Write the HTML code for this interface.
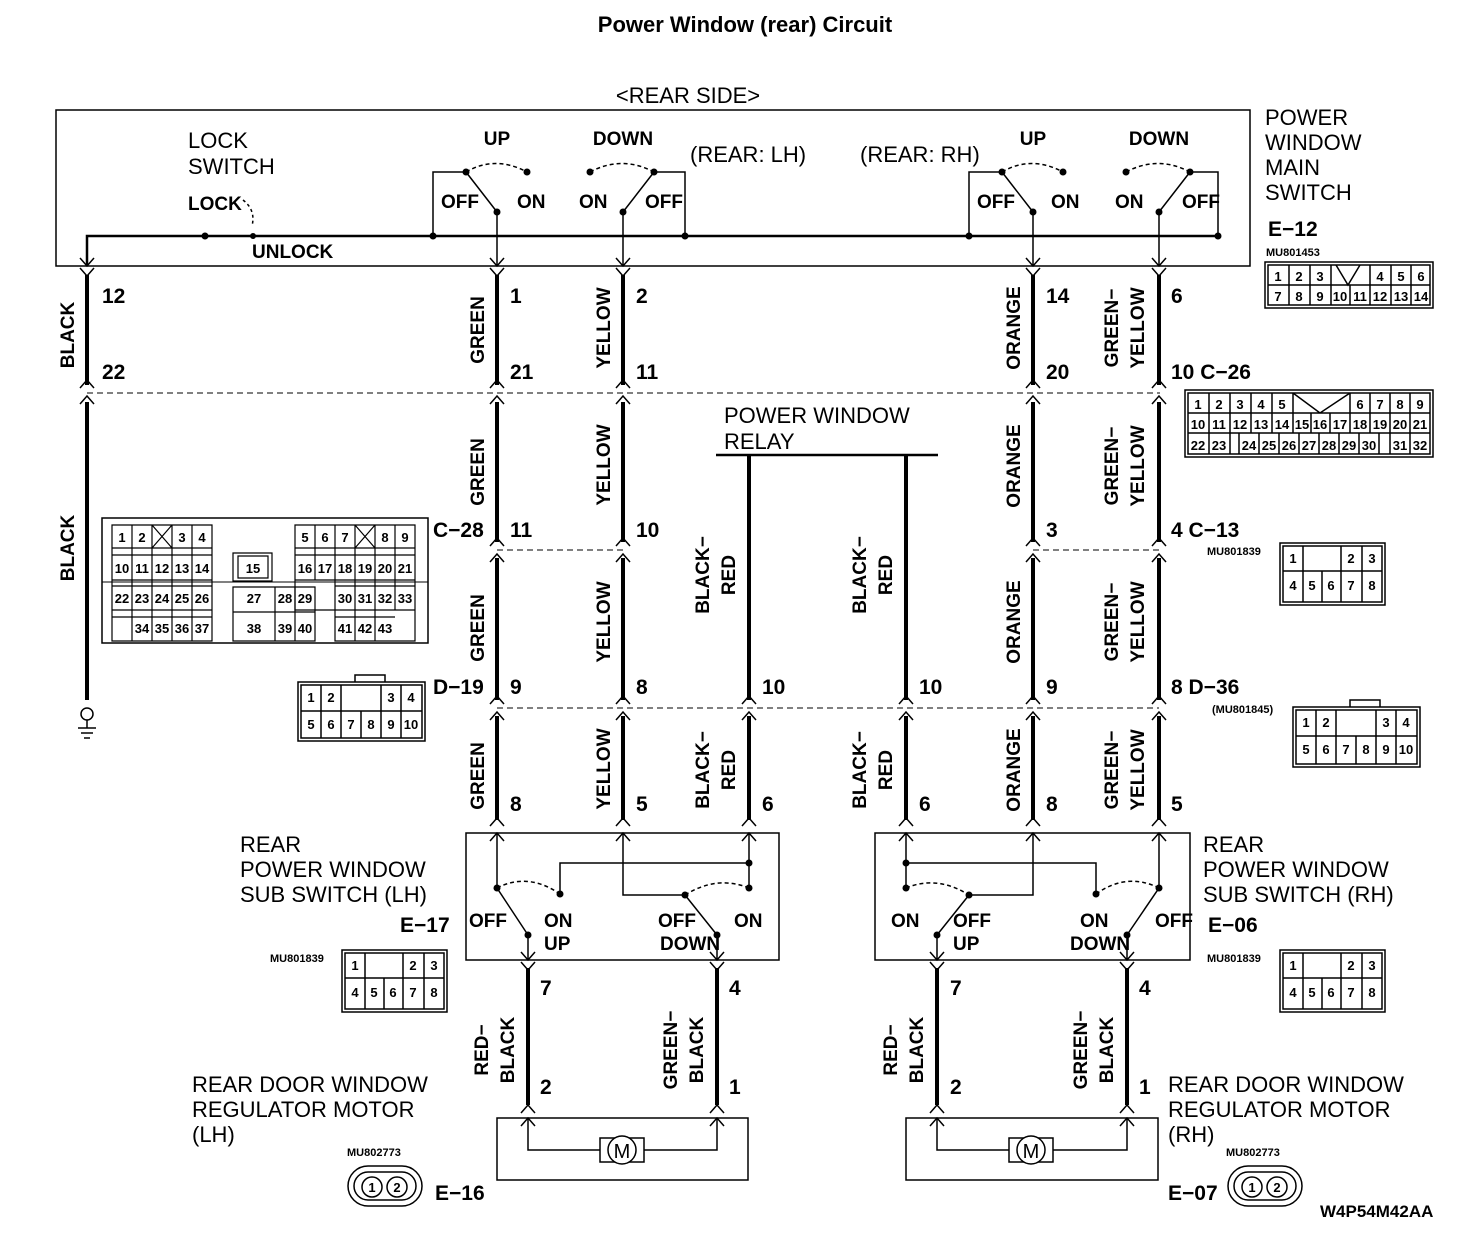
<!DOCTYPE html>
<html><head><meta charset="utf-8"><style>
html,body{margin:0;padding:0;background:#fff}
svg{display:block}
text{font-family:"Liberation Sans Narrow","Liberation Sans",sans-serif;fill:#000}
.b{font-weight:bold}
.p{font-size:21px;font-weight:bold}
.w{font-size:19px;font-weight:bold}
.t{font-size:22px;font-family:"Liberation Sans",sans-serif}
.c{font-size:13px;font-weight:bold;text-anchor:middle}
.s{font-size:11px;font-weight:bold}
</style></head><body>
<svg width="1472" height="1234" viewBox="0 0 1472 1234" xmlns="http://www.w3.org/2000/svg">
<defs>
<path id="dn" d="M-7,-8 L0,0 L7,-8" fill="none" stroke="#000" stroke-width="1.5"/>
<path id="up" d="M-7,8 L0,0 L7,8" fill="none" stroke="#000" stroke-width="1.5"/>
</defs>
<text x="745" y="32" font-size="22" class="b" text-anchor="middle" style="font-family:'Liberation Sans',sans-serif">Power Window (rear) Circuit</text>
<text x="688" y="103" class="t" text-anchor="middle" font-size="20">&lt;REAR SIDE&gt;</text>

<!-- main switch box -->
<rect x="56" y="110" width="1194" height="156" fill="none" stroke="#000" stroke-width="1.5"/>
<text x="1265" y="125" class="t">POWER</text>
<text x="1265" y="150" class="t">WINDOW</text>
<text x="1265" y="175" class="t">MAIN</text>
<text x="1265" y="200" class="t">SWITCH</text>
<text x="1268" y="236" class="p">E−12</text>
<text x="1266" y="256" class="s">MU801453</text>
<text x="188" y="148" class="t" font-size="18">LOCK</text>
<text x="188" y="174" class="t" font-size="18">SWITCH</text>
<text x="188" y="210" class="w">LOCK</text>
<text x="252" y="258" class="w">UNLOCK</text>
<path d="M243,200 Q256,210 252,226" fill="none" stroke="#000" stroke-dasharray="3,3" stroke-width="1.5"/>
<path d="M87,266 V236 H1218" fill="none" stroke="#000" stroke-width="2.5"/>
<circle cx="205" cy="236" r="3.5"/><circle cx="253" cy="236" r="3"/><circle cx="433" cy="236" r="3.5"/><circle cx="685" cy="236" r="3.5"/><circle cx="969" cy="236" r="3.5"/><circle cx="1218" cy="236" r="3.5"/>
<!-- LH switches -->
<text x="497" y="145" class="w" text-anchor="middle">UP</text>
<text x="623" y="145" class="w" text-anchor="middle">DOWN</text>
<path d="M433,236 V172 H466 M497,212 L466,172 M497,212 V266" fill="none" stroke="#000" stroke-width="1.5"/>
<path d="M466,172 Q495,155 527,172" fill="none" stroke="#000" stroke-dasharray="4,3" stroke-width="1.5"/>
<circle cx="466" cy="172" r="3.5"/><circle cx="527" cy="172" r="3.5"/><circle cx="497" cy="212" r="3.5"/>
<text x="441" y="208" class="w">OFF</text><text x="517" y="208" class="w">ON</text>
<path d="M685,236 V172 H654 M623,212 L654,172 M623,212 V266" fill="none" stroke="#000" stroke-width="1.5"/>
<path d="M590,172 Q622,155 654,172" fill="none" stroke="#000" stroke-dasharray="4,3" stroke-width="1.5"/>
<circle cx="590" cy="172" r="3.5"/><circle cx="654" cy="172" r="3.5"/><circle cx="623" cy="212" r="3.5"/>
<text x="579" y="208" class="w">ON</text><text x="645" y="208" class="w">OFF</text>
<text x="690" y="162" class="t" font-size="17">(REAR: LH)</text>
<text x="860" y="162" class="t" font-size="17">(REAR: RH)</text>
<!-- RH switches -->
<text x="1033" y="145" class="w" text-anchor="middle">UP</text>
<text x="1159" y="145" class="w" text-anchor="middle">DOWN</text>
<path d="M969,236 V172 H1002 M1033,212 L1002,172 M1033,212 V266" fill="none" stroke="#000" stroke-width="1.5"/>
<path d="M1002,172 Q1031,155 1063,172" fill="none" stroke="#000" stroke-dasharray="4,3" stroke-width="1.5"/>
<circle cx="1002" cy="172" r="3.5"/><circle cx="1063" cy="172" r="3.5"/><circle cx="1033" cy="212" r="3.5"/>
<text x="977" y="208" class="w">OFF</text><text x="1051" y="208" class="w">ON</text>
<path d="M1218,236 V172 H1190 M1159,212 L1190,172 M1159,212 V266" fill="none" stroke="#000" stroke-width="1.5"/>
<path d="M1126,172 Q1158,155 1190,172" fill="none" stroke="#000" stroke-dasharray="4,3" stroke-width="1.5"/>
<circle cx="1126" cy="172" r="3.5"/><circle cx="1190" cy="172" r="3.5"/><circle cx="1159" cy="212" r="3.5"/>
<text x="1115" y="208" class="w">ON</text><text x="1182" y="208" class="w">OFF</text>

<!-- thick wires -->
<g stroke="#000" stroke-width="4" fill="none">
<path d="M87,275 V385 M87,402 V700"/>
<path d="M497,275 V385 M497,402 V542 M497,558 V700 M497,716 V820"/>
<path d="M623,275 V385 M623,402 V542 M623,558 V700 M623,716 V820"/>
<path d="M1033,275 V385 M1033,402 V542 M1033,558 V700 M1033,716 V820"/>
<path d="M1159,275 V385 M1159,402 V542 M1159,558 V700 M1159,716 V820"/>
<path d="M749,455 V700 M749,716 V820"/>
<path d="M906,455 V700 M906,716 V820"/>
<path d="M528,968 V1105 M717,968 V1105 M937,968 V1105 M1127,968 V1105"/>
</g>
<line x1="716" y1="455" x2="938" y2="455" stroke="#000" stroke-width="2.5"/>
<text x="724" y="423" class="t">POWER WINDOW</text>
<text x="724" y="449" class="t">RELAY</text>

<!-- dashed connector lines -->
<g stroke="#000" stroke-dasharray="6,4" stroke-width="1">
<line x1="87" y1="393" x2="1160" y2="393"/>
<line x1="497" y1="550" x2="623" y2="550"/><line x1="1033" y1="550" x2="1159" y2="550"/>
<line x1="497" y1="708" x2="1159" y2="708"/>
</g>

<!-- chevrons -->
<g>
<use href="#dn" x="87" y="266"/><use href="#dn" x="87" y="276"/>
<use href="#dn" x="497" y="266"/><use href="#dn" x="497" y="276"/>
<use href="#dn" x="623" y="266"/><use href="#dn" x="623" y="276"/>
<use href="#dn" x="1033" y="266"/><use href="#dn" x="1033" y="276"/>
<use href="#dn" x="1159" y="266"/><use href="#dn" x="1159" y="276"/>
<use href="#up" x="87" y="380"/><use href="#up" x="87" y="396"/>
<use href="#up" x="497" y="380"/><use href="#up" x="497" y="396"/>
<use href="#up" x="623" y="380"/><use href="#up" x="623" y="396"/>
<use href="#up" x="1033" y="380"/><use href="#up" x="1033" y="396"/>
<use href="#up" x="1159" y="380"/><use href="#up" x="1159" y="396"/>
<use href="#up" x="497" y="538"/><use href="#up" x="497" y="554"/>
<use href="#up" x="623" y="538"/><use href="#up" x="623" y="554"/>
<use href="#up" x="1033" y="538"/><use href="#up" x="1033" y="554"/>
<use href="#up" x="1159" y="538"/><use href="#up" x="1159" y="554"/>
<use href="#up" x="497" y="696"/><use href="#up" x="497" y="712"/>
<use href="#up" x="623" y="696"/><use href="#up" x="623" y="712"/>
<use href="#up" x="749" y="696"/><use href="#up" x="749" y="712"/>
<use href="#up" x="906" y="696"/><use href="#up" x="906" y="712"/>
<use href="#up" x="1033" y="696"/><use href="#up" x="1033" y="712"/>
<use href="#up" x="1159" y="696"/><use href="#up" x="1159" y="712"/>
<use href="#up" x="497" y="818"/><use href="#up" x="497" y="833"/>
<use href="#up" x="623" y="818"/><use href="#up" x="623" y="833"/>
<use href="#up" x="749" y="818"/><use href="#up" x="749" y="833"/>
<use href="#up" x="906" y="818"/><use href="#up" x="906" y="833"/>
<use href="#up" x="1033" y="818"/><use href="#up" x="1033" y="833"/>
<use href="#up" x="1159" y="818"/><use href="#up" x="1159" y="833"/>
<use href="#dn" x="528" y="960"/><use href="#dn" x="528" y="970"/>
<use href="#dn" x="717" y="960"/><use href="#dn" x="717" y="970"/>
<use href="#dn" x="937" y="960"/><use href="#dn" x="937" y="970"/>
<use href="#dn" x="1127" y="960"/><use href="#dn" x="1127" y="970"/>
<use href="#up" x="528" y="1105"/><use href="#up" x="528" y="1118"/>
<use href="#up" x="717" y="1105"/><use href="#up" x="717" y="1118"/>
<use href="#up" x="937" y="1105"/><use href="#up" x="937" y="1118"/>
<use href="#up" x="1127" y="1105"/><use href="#up" x="1127" y="1118"/>
</g>

<!-- pin numbers -->
<g class="p">
<text x="102" y="303" class="p">12</text><text x="510" y="303" class="p">1</text><text x="636" y="303" class="p">2</text><text x="1046" y="303" class="p">14</text><text x="1171" y="303" class="p">6</text>
<text x="102" y="379" class="p">22</text><text x="510" y="379" class="p">21</text><text x="636" y="379" class="p">11</text><text x="1046" y="379" class="p">20</text><text x="1171" y="379" class="p">10  C−26</text>
<text x="433" y="537" class="p">C−28</text><text x="510" y="537" class="p">11</text><text x="636" y="537" class="p">10</text><text x="1046" y="537" class="p">3</text><text x="1171" y="537" class="p">4  C−13</text>
<text x="433" y="694" class="p">D−19</text><text x="510" y="694" class="p">9</text><text x="636" y="694" class="p">8</text><text x="762" y="694" class="p">10</text><text x="919" y="694" class="p">10</text><text x="1046" y="694" class="p">9</text><text x="1171" y="694" class="p">8  D−36</text>
<text x="510" y="811" class="p">8</text><text x="636" y="811" class="p">5</text><text x="762" y="811" class="p">6</text><text x="919" y="811" class="p">6</text><text x="1046" y="811" class="p">8</text><text x="1171" y="811" class="p">5</text>
<text x="540" y="995" class="p">7</text><text x="729" y="995" class="p">4</text><text x="950" y="995" class="p">7</text><text x="1139" y="995" class="p">4</text>
<text x="540" y="1094" class="p">2</text><text x="729" y="1094" class="p">1</text><text x="950" y="1094" class="p">2</text><text x="1139" y="1094" class="p">1</text>
</g>

<!-- wire color labels (rotated) -->
<g class="w">
<text transform="translate(74,335) rotate(-90)" text-anchor="middle" class="w">BLACK</text>
<text transform="translate(74,548) rotate(-90)" text-anchor="middle" class="w">BLACK</text>
<text transform="translate(484,330) rotate(-90)" text-anchor="middle" class="w">GREEN</text>
<text transform="translate(484,472) rotate(-90)" text-anchor="middle" class="w">GREEN</text>
<text transform="translate(484,628) rotate(-90)" text-anchor="middle" class="w">GREEN</text>
<text transform="translate(484,776) rotate(-90)" text-anchor="middle" class="w">GREEN</text>
<text transform="translate(610,328) rotate(-90)" text-anchor="middle" class="w">YELLOW</text>
<text transform="translate(610,465) rotate(-90)" text-anchor="middle" class="w">YELLOW</text>
<text transform="translate(610,622) rotate(-90)" text-anchor="middle" class="w">YELLOW</text>
<text transform="translate(610,769) rotate(-90)" text-anchor="middle" class="w">YELLOW</text>
<text transform="translate(1020,328) rotate(-90)" text-anchor="middle" class="w">ORANGE</text>
<text transform="translate(1020,466) rotate(-90)" text-anchor="middle" class="w">ORANGE</text>
<text transform="translate(1020,622) rotate(-90)" text-anchor="middle" class="w">ORANGE</text>
<text transform="translate(1020,770) rotate(-90)" text-anchor="middle" class="w">ORANGE</text>
<text transform="translate(1118,328) rotate(-90)" text-anchor="middle" class="w">GREEN−</text><text transform="translate(1144,328) rotate(-90)" text-anchor="middle" class="w">YELLOW</text>
<text transform="translate(1118,466) rotate(-90)" text-anchor="middle" class="w">GREEN−</text><text transform="translate(1144,466) rotate(-90)" text-anchor="middle" class="w">YELLOW</text>
<text transform="translate(1118,622) rotate(-90)" text-anchor="middle" class="w">GREEN−</text><text transform="translate(1144,622) rotate(-90)" text-anchor="middle" class="w">YELLOW</text>
<text transform="translate(1118,770) rotate(-90)" text-anchor="middle" class="w">GREEN−</text><text transform="translate(1144,770) rotate(-90)" text-anchor="middle" class="w">YELLOW</text>
<text transform="translate(709,575) rotate(-90)" text-anchor="middle" class="w">BLACK−</text><text transform="translate(735,575) rotate(-90)" text-anchor="middle" class="w">RED</text>
<text transform="translate(709,770) rotate(-90)" text-anchor="middle" class="w">BLACK−</text><text transform="translate(735,770) rotate(-90)" text-anchor="middle" class="w">RED</text>
<text transform="translate(866,575) rotate(-90)" text-anchor="middle" class="w">BLACK−</text><text transform="translate(892,575) rotate(-90)" text-anchor="middle" class="w">RED</text>
<text transform="translate(866,770) rotate(-90)" text-anchor="middle" class="w">BLACK−</text><text transform="translate(892,770) rotate(-90)" text-anchor="middle" class="w">RED</text>
<text transform="translate(488,1050) rotate(-90)" text-anchor="middle" class="w">RED−</text><text transform="translate(514,1050) rotate(-90)" text-anchor="middle" class="w">BLACK</text>
<text transform="translate(677,1050) rotate(-90)" text-anchor="middle" class="w">GREEN−</text><text transform="translate(703,1050) rotate(-90)" text-anchor="middle" class="w">BLACK</text>
<text transform="translate(897,1050) rotate(-90)" text-anchor="middle" class="w">RED−</text><text transform="translate(923,1050) rotate(-90)" text-anchor="middle" class="w">BLACK</text>
<text transform="translate(1087,1050) rotate(-90)" text-anchor="middle" class="w">GREEN−</text><text transform="translate(1113,1050) rotate(-90)" text-anchor="middle" class="w">BLACK</text>
</g>

<!-- ground -->
<circle cx="87" cy="714" r="6" fill="none" stroke="#000" stroke-width="1.5"/>
<path d="M87,720 V728 M78,728 H96 M81,733 H93 M84,738 H90" stroke="#000" stroke-width="1.5"/>

<!-- sub switches -->
<rect x="466" y="833" width="313" height="127" fill="none" stroke="#000" stroke-width="1.5"/>
<g stroke="#000" stroke-width="1.5" fill="none">
<path d="M497,833 V888 M497,888 L528,935 M528,935 V960"/>
<path d="M749,833 V888 M749,863 H560 V894"/>
<path d="M623,833 V895 H685 M685,895 L717,935 M717,935 V960"/>
<path d="M497,888 Q528,872 560,894" stroke-dasharray="4,3"/><path d="M685,895 Q717,875 749,888" stroke-dasharray="4,3"/>
</g>
<circle cx="497" cy="888" r="3.5"/><circle cx="560" cy="894" r="3.5"/><circle cx="528" cy="935" r="3.5"/><circle cx="749" cy="863" r="3.5"/><circle cx="749" cy="888" r="3.5"/><circle cx="685" cy="895" r="3.5"/><circle cx="717" cy="935" r="3.5"/>
<text x="469" y="927" class="w">OFF</text><text x="544" y="927" class="w">ON</text><text x="544" y="950" class="w">UP</text>
<text x="658" y="927" class="w">OFF</text><text x="660" y="950" class="w">DOWN</text><text x="734" y="927" class="w">ON</text>
<text x="240" y="852" class="t">REAR</text><text x="240" y="877" class="t">POWER WINDOW</text><text x="240" y="902" class="t">SUB SWITCH (LH)</text>
<text x="400" y="932" class="p">E−17</text>

<rect x="875" y="833" width="315" height="127" fill="none" stroke="#000" stroke-width="1.5"/>
<g stroke="#000" stroke-width="1.5" fill="none">
<path d="M1159,833 V888 M1159,888 L1127,935 M1127,935 V960"/>
<path d="M906,833 V888 M906,863 H1096 V894"/>
<path d="M1033,833 V895 H969 M969,895 L937,935 M937,935 V960"/>
<path d="M1096,894 Q1127,872 1159,888" stroke-dasharray="4,3"/><path d="M906,888 Q937,875 969,895" stroke-dasharray="4,3"/>
</g>
<circle cx="906" cy="863" r="3.5"/><circle cx="906" cy="888" r="3.5"/><circle cx="969" cy="895" r="3.5"/><circle cx="937" cy="935" r="3.5"/><circle cx="1096" cy="894" r="3.5"/><circle cx="1159" cy="888" r="3.5"/><circle cx="1127" cy="935" r="3.5"/>
<text x="891" y="927" class="w">ON</text><text x="953" y="927" class="w">OFF</text><text x="953" y="950" class="w">UP</text>
<text x="1080" y="927" class="w">ON</text><text x="1070" y="950" class="w">DOWN</text><text x="1155" y="927" class="w">OFF</text>
<text x="1203" y="852" class="t">REAR</text><text x="1203" y="877" class="t">POWER WINDOW</text><text x="1203" y="902" class="t">SUB SWITCH (RH)</text>
<text x="1208" y="932" class="p">E−06</text>

<!-- motors -->
<rect x="497" y="1118" width="251" height="62" fill="none" stroke="#000" stroke-width="1.5"/>
<path d="M528,1118 V1150 H600 M644,1150 H717 V1118" fill="none" stroke="#000" stroke-width="1.5"/>
<rect x="600" y="1138" width="44" height="24" fill="none" stroke="#000" stroke-width="1.5"/>
<circle cx="622" cy="1150" r="14" fill="#fff" stroke="#000" stroke-width="1.5"/><text x="622" y="1158" font-size="20" text-anchor="middle" class="t" style="font-size:20px">M</text>
<text x="192" y="1092" class="t">REAR DOOR WINDOW</text><text x="192" y="1117" class="t">REGULATOR MOTOR</text><text x="192" y="1142" class="t">(LH)</text>
<rect x="906" y="1118" width="252" height="62" fill="none" stroke="#000" stroke-width="1.5"/>
<path d="M937,1118 V1150 H1009 M1053,1150 H1127 V1118" fill="none" stroke="#000" stroke-width="1.5"/>
<rect x="1009" y="1138" width="44" height="24" fill="none" stroke="#000" stroke-width="1.5"/>
<circle cx="1031" cy="1150" r="14" fill="#fff" stroke="#000" stroke-width="1.5"/><text x="1031" y="1158" text-anchor="middle" class="t" style="font-size:20px">M</text>
<text x="1168" y="1092" class="t">REAR DOOR WINDOW</text><text x="1168" y="1117" class="t">REGULATOR MOTOR</text><text x="1168" y="1142" class="t">(RH)</text>

<!-- E-16 / E-07 round connectors -->
<g fill="none" stroke="#000" stroke-width="1.5">
<rect x="348" y="1166" width="74" height="40" rx="20"/><rect x="354" y="1172" width="62" height="28" rx="14"/>
<circle cx="372" cy="1187" r="10"/><circle cx="397" cy="1187" r="10"/>
<rect x="1228" y="1166" width="74" height="40" rx="20"/><rect x="1234" y="1172" width="62" height="28" rx="14"/>
<circle cx="1252" cy="1187" r="10"/><circle cx="1277" cy="1187" r="10"/>
</g>
<text x="372" y="1192" class="c">1</text><text x="397" y="1192" class="c">2</text>
<text x="1252" y="1192" class="c">1</text><text x="1277" y="1192" class="c">2</text>
<text x="347" y="1156" class="s">MU802773</text><text x="1226" y="1156" class="s">MU802773</text>
<text x="435" y="1200" class="p">E−16</text><text x="1168" y="1200" class="p">E−07</text>
<text x="1320" y="1217" class="w" style="font-size:17px">W4P54M42AA</text>

<!-- E-12 table -->
<g fill="none" stroke="#000" stroke-width="1.5">
<rect x="1265" y="262" width="168" height="46"/><rect x="1268" y="265" width="162" height="40"/>
<path d="M1268,285 H1430 M1289,265 V305 M1310,265 V305 M1331,265 V305 M1350,285 V305 M1370,265 V305 M1391,265 V305 M1411,265 V305 M1336,265 L1348,285 L1360,265"/>
</g>
<g class="c"><text x="1278" y="281">1</text><text x="1299" y="281">2</text><text x="1320" y="281">3</text><text x="1380" y="281">4</text><text x="1401" y="281">5</text><text x="1421" y="281">6</text>
<text x="1278" y="301">7</text><text x="1299" y="301">8</text><text x="1320" y="301">9</text><text x="1340" y="301">10</text><text x="1360" y="301">11</text><text x="1380" y="301">12</text><text x="1401" y="301">13</text><text x="1421" y="301">14</text></g>

<!-- C-26 table -->
<g fill="none" stroke="#000" stroke-width="1.5">
<rect x="1185" y="390" width="248" height="67"/><rect x="1188" y="393" width="242" height="61"/>
<path d="M1188,413 H1430 M1188,433 H1430 M1209,393 V454 M1230,393 V454 M1251,393 V433 M1272,393 V433 M1293,393 V433 M1350,393 V433 M1370,393 V433 M1390,393 V433 M1410,393 V433 M1293,393 L1320,413 L1350,393 M1311,413 V433 M1330,413 V433 M1239,433 V454 M1259,433 V454 M1279,433 V454 M1299,433 V454 M1319,433 V454 M1339,433 V454 M1359,433 V454 M1379,433 V454 M1390,433 V454 M1410,433 V454"/>
</g>
<g class="c"><text x="1198" y="409">1</text><text x="1219" y="409">2</text><text x="1240" y="409">3</text><text x="1261" y="409">4</text><text x="1282" y="409">5</text><text x="1360" y="409">6</text><text x="1380" y="409">7</text><text x="1400" y="409">8</text><text x="1420" y="409">9</text>
<text x="1198" y="429">10</text><text x="1219" y="429">11</text><text x="1240" y="429">12</text><text x="1261" y="429">13</text><text x="1282" y="429">14</text><text x="1302" y="429">15</text><text x="1320" y="429">16</text><text x="1340" y="429">17</text><text x="1360" y="429">18</text><text x="1380" y="429">19</text><text x="1400" y="429">20</text><text x="1420" y="429">21</text>
<text x="1198" y="450">22</text><text x="1219" y="450">23</text><text x="1249" y="450">24</text><text x="1269" y="450">25</text><text x="1289" y="450">26</text><text x="1309" y="450">27</text><text x="1329" y="450">28</text><text x="1349" y="450">29</text><text x="1369" y="450">30</text><text x="1400" y="450">31</text><text x="1420" y="450">32</text></g>

<!-- C-28 big -->
<rect x="102" y="518" width="326" height="125" fill="none" stroke="#000" stroke-width="1.5"/>
<path d="M102,582 H428" stroke="#000" stroke-width="1"/>
<g fill="none" stroke="#000" stroke-width="1.2">
<path d="M112,525 H212 V641 H112 Z M112,548 H212 M112,555 H212 M112,580 H212 M112,586 H212 M112,610 H212 M112,617 H212 M132,525 V641 M152,525 V641 M172,525 V641 M192,525 V641 M152,525 L172,548 M172,525 L152,548"/>
<path d="M233,553 H272 V581 H233 Z M238,556 H268 V578 H238 Z M233,587 H315 V641 H233 Z M233,612 H315 M275,587 V641 M295,587 V641"/>
<path d="M295,525 H415 V641 H335 V610 H295 Z M295,548 H415 M295,555 H415 M295,580 H415 M335,586 H415 M335,610 H415 M335,617 H395 M315,525 V580 M335,525 V641 M355,525 V641 M375,525 V641 M395,525 V610 M355,525 L375,548 M375,525 L355,548"/>
</g>
<g class="c"><text x="122" y="542">1</text><text x="142" y="542">2</text><text x="182" y="542">3</text><text x="202" y="542">4</text><text x="305" y="542">5</text><text x="325" y="542">6</text><text x="345" y="542">7</text><text x="385" y="542">8</text><text x="405" y="542">9</text>
<text x="122" y="573">10</text><text x="142" y="573">11</text><text x="162" y="573">12</text><text x="182" y="573">13</text><text x="202" y="573">14</text><text x="253" y="573">15</text><text x="305" y="573">16</text><text x="325" y="573">17</text><text x="345" y="573">18</text><text x="365" y="573">19</text><text x="385" y="573">20</text><text x="405" y="573">21</text>
<text x="122" y="603">22</text><text x="142" y="603">23</text><text x="162" y="603">24</text><text x="182" y="603">25</text><text x="202" y="603">26</text><text x="254" y="603">27</text><text x="285" y="603">28</text><text x="305" y="603">29</text><text x="345" y="603">30</text><text x="365" y="603">31</text><text x="385" y="603">32</text><text x="405" y="603">33</text>
<text x="142" y="633">34</text><text x="162" y="633">35</text><text x="182" y="633">36</text><text x="202" y="633">37</text><text x="254" y="633">38</text><text x="285" y="633">39</text><text x="305" y="633">40</text><text x="345" y="633">41</text><text x="365" y="633">42</text><text x="385" y="633">43</text></g>

<!-- 10-pin connectors: D-19, D-36 -->
<g fill="none" stroke="#000" stroke-width="1.5">
<rect x="298" y="682" width="127" height="59"/><rect x="301" y="685" width="121" height="53"/><path d="M355,682 V675 H385 V682"/>
<path d="M301,711 H422 M321,685 V738 M341,685 V738 M361,711 V738 M381,711 V738 M401,685 V738 M381,685 V711"/>
<rect x="1293" y="707" width="127" height="60"/><rect x="1296" y="710" width="121" height="54"/><path d="M1350,707 V700 H1380 V707"/>
<path d="M1296,736 H1417 M1316,710 V764 M1336,710 V764 M1356,736 V764 M1376,736 V764 M1396,710 V764 M1376,710 V736"/>
</g>
<g class="c"><text x="311" y="702">1</text><text x="331" y="702">2</text><text x="391" y="702">3</text><text x="411" y="702">4</text>
<text x="311" y="729">5</text><text x="331" y="729">6</text><text x="351" y="729">7</text><text x="371" y="729">8</text><text x="391" y="729">9</text><text x="411" y="729">10</text>
<text x="1306" y="727">1</text><text x="1326" y="727">2</text><text x="1386" y="727">3</text><text x="1406" y="727">4</text>
<text x="1306" y="754">5</text><text x="1326" y="754">6</text><text x="1346" y="754">7</text><text x="1366" y="754">8</text><text x="1386" y="754">9</text><text x="1406" y="754">10</text></g>
<text x="1212" y="713" class="s">(MU801845)</text>

<!-- 8-pin connectors: C-13, E-17, E-06 -->
<g fill="none" stroke="#000" stroke-width="1.5">
<rect x="1280" y="543" width="105" height="62"/><rect x="1283" y="546" width="99" height="56"/>
<path d="M1283,571 H1382 M1303,546 V602 M1341,546 V602 M1362,546 V602 M1322,571 V602"/>
<rect x="342" y="950" width="105" height="62"/><rect x="345" y="953" width="99" height="56"/>
<path d="M345,978 H444 M365,953 V1009 M403,953 V1009 M424,953 V1009 M384,978 V1009"/>
<rect x="1280" y="950" width="105" height="62"/><rect x="1283" y="953" width="99" height="56"/>
<path d="M1283,978 H1382 M1303,953 V1009 M1341,953 V1009 M1362,953 V1009 M1322,978 V1009"/>
</g>
<g class="c"><text x="1293" y="563">1</text><text x="1351" y="563">2</text><text x="1372" y="563">3</text><text x="1293" y="590">4</text><text x="1312" y="590">5</text><text x="1331" y="590">6</text><text x="1351" y="590">7</text><text x="1372" y="590">8</text>
<text x="355" y="970">1</text><text x="413" y="970">2</text><text x="434" y="970">3</text><text x="355" y="997">4</text><text x="374" y="997">5</text><text x="393" y="997">6</text><text x="413" y="997">7</text><text x="434" y="997">8</text>
<text x="1293" y="970">1</text><text x="1351" y="970">2</text><text x="1372" y="970">3</text><text x="1293" y="997">4</text><text x="1312" y="997">5</text><text x="1331" y="997">6</text><text x="1351" y="997">7</text><text x="1372" y="997">8</text></g>
<text x="1207" y="555" class="s">MU801839</text>
<text x="270" y="962" class="s">MU801839</text>
<text x="1207" y="962" class="s">MU801839</text>
</svg>
</body></html>
